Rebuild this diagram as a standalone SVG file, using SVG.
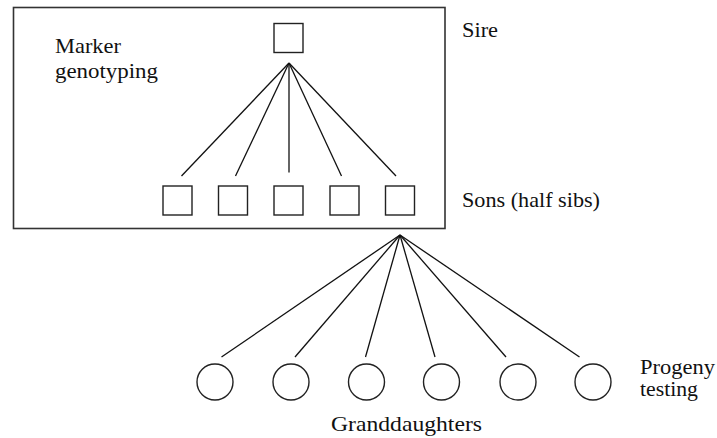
<svg xmlns="http://www.w3.org/2000/svg" width="717" height="438" viewBox="0 0 717 438">
<style>
.t{font-family:"Liberation Serif","Times New Roman",serif;font-size:21px;fill:#111}
.s{font-size:20px}
.sq{fill:#fff;stroke:#222;stroke-width:1.4}
.c{fill:#fff;stroke:#222;stroke-width:1.4}
.ln{stroke:#111;stroke-width:1.3;fill:none}
</style>
<rect id="box" x="13.5" y="7.5" width="431.5" height="221" fill="none" stroke="#333" stroke-width="1.6"/>
<g id="connectors" class="ln">
<line x1="289" y1="63" x2="181.5" y2="176"/>
<line x1="289" y1="63" x2="235.5" y2="176"/>
<line x1="289" y1="63" x2="289" y2="172.5"/>
<line x1="289" y1="63" x2="341.5" y2="176"/>
<line x1="289" y1="63" x2="396" y2="176"/>
<line x1="400" y1="235" x2="221.5" y2="357"/>
<line x1="400" y1="235" x2="295" y2="357"/>
<line x1="400" y1="235" x2="365.5" y2="357"/>
<line x1="400" y1="235" x2="435" y2="357"/>
<line x1="400" y1="235" x2="506" y2="357"/>
<line x1="400" y1="235" x2="579.5" y2="357"/>
</g>
<g id="sire"><rect class="sq" x="274" y="23.5" width="29" height="29"/></g>
<g id="son1"><rect class="sq" x="163" y="186" width="29" height="29"/></g>
<g id="son2"><rect class="sq" x="218.5" y="186" width="29" height="29"/></g>
<g id="son3"><rect class="sq" x="274" y="186" width="29" height="29"/></g>
<g id="son4"><rect class="sq" x="330" y="186" width="29" height="29"/></g>
<g id="son5"><rect class="sq" x="385.5" y="186" width="29" height="29"/></g>
<g id="gd1"><circle class="c" cx="215" cy="382" r="18"/></g>
<g id="gd2"><circle class="c" cx="291" cy="382" r="18"/></g>
<g id="gd3"><circle class="c" cx="366.5" cy="382" r="18"/></g>
<g id="gd4"><circle class="c" cx="441.5" cy="382" r="18"/></g>
<g id="gd5"><circle class="c" cx="518" cy="382" r="18"/></g>
<g id="gd6"><circle class="c" cx="593" cy="382" r="18"/></g>
<g id="labels">
<text class="t" x="55" y="53" textLength="66" lengthAdjust="spacingAndGlyphs">Marker</text>
<text class="t" x="55" y="78" textLength="103" lengthAdjust="spacingAndGlyphs">genotyping</text>
<text class="t" x="462" y="37" textLength="36" lengthAdjust="spacingAndGlyphs">Sire</text>
<text class="t" x="462" y="207" textLength="138" lengthAdjust="spacingAndGlyphs">Sons (half sibs)</text>
<text class="t s" x="640" y="374" textLength="75" lengthAdjust="spacingAndGlyphs">Progeny</text>
<text class="t s" x="640" y="396" textLength="58" lengthAdjust="spacingAndGlyphs">testing</text>
<text class="t" x="331" y="431" textLength="151" lengthAdjust="spacingAndGlyphs">Granddaughters</text>
</g>
</svg>
